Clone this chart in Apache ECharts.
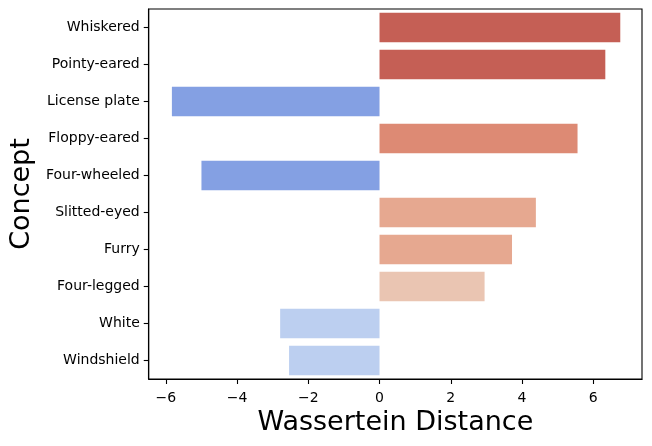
<!DOCTYPE html>
<html>
<head>
<meta charset="utf-8">
<script src="https://cdn.jsdelivr.net/npm/echarts@6/dist/echarts.min.js"></script>
<style>
  html, body { margin: 0; padding: 0; background: #fff; }
  #main { width: 652px; height: 446px; }
</style>
</head>
<body>
<div id="main"></div>
<script>
var concepts = ['Whiskered', 'Pointy-eared', 'License plate', 'Floppy-eared', 'Four-wheeled',
    'Slitted-eyed', 'Furry', 'Four-legged', 'White', 'Windshield'];
var distances = [6.76, 6.34, -5.83, 5.56, -5.0, 4.39, 3.72, 2.95, -2.79, -2.54];
var xTicks = [-6, -4, -2, 0, 2, 4, 6];

// coolwarm-ish bar colours, one per concept
var barColors = ['#c55f55', '#c55f55', '#84a0e3', '#dd8a74', '#84a0e3',
    '#e6a890', '#e6a890', '#eac5b2', '#bccff0', '#bccff0'];

var myChart = echarts.init(document.getElementById('main'));

var font = 'DejaVu Sans';

var option = {
    backgroundColor: '#fff',
    animation: false,
    grid: {
        left: 146,
        right: 10,
        top: 9,
        bottom: 67,
        show: true,
        borderColor: '#000',
        borderWidth: 1.1
    },
    xAxis: {
        type: 'value',
        min: -6.48,
        max: 7.37,
        name: 'Wassertein Distance',
        nameLocation: 'middle',
        nameGap: 30,
        nameTextStyle: { fontFamily: font, fontSize: 27, color: '#000', verticalAlign: 'top' },
        axisLine: { show: true, onZero: false, lineStyle: { color: '#000', width: 1.1 } },
        axisTick: { show: true, length: 5, lineStyle: { color: '#000', width: 1.1 }, customValues: xTicks },
        axisLabel: {
            fontFamily: font, fontSize: 14, color: '#000', margin: 12,
            customValues: xTicks,
            formatter: function (v) { return v < 0 ? '\u2212' + Math.abs(v) : String(v); }
        },
        splitLine: { show: false }
    },
    yAxis: {
        type: 'category',
        inverse: true,
        data: concepts,
        name: 'Concept',
        nameLocation: 'middle',
        nameGap: 104,
        nameRotate: 90,
        nameTextStyle: { fontFamily: font, fontSize: 27, color: '#000' },
        axisLine: { show: true, onZero: false, lineStyle: { color: '#000', width: 1.1 } },
        axisTick: { show: true, alignWithLabel: true, length: 5, lineStyle: { color: '#000', width: 1.1 } },
        axisLabel: { fontFamily: font, fontSize: 14, color: '#000', margin: 9, padding: [4, 0, 0, 0] }
    },
    series: [{
        type: 'bar',
        barCategoryGap: '20%',
        data: distances.map(function (v, i) {
            return { value: v, itemStyle: { color: barColors[i] } };
        })
    }]
};

myChart.setOption(option);
</script>
</body>
</html>
